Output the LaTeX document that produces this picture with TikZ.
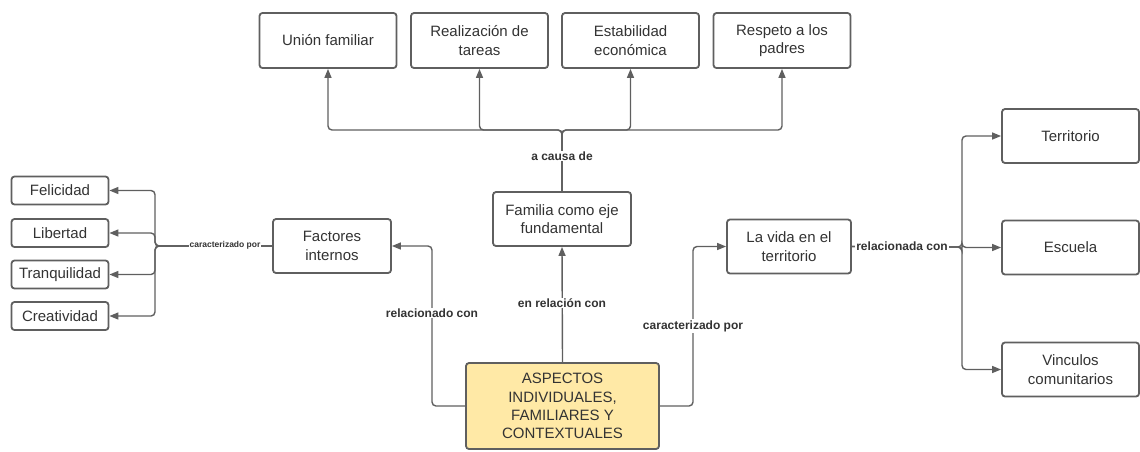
\documentclass[tikz,border=0pt]{standalone}
\usepackage{fontspec}
\setmainfont{Liberation Sans}
\usetikzlibrary{arrows.meta}
\definecolor{ln}{HTML}{5F5F5F}
\definecolor{tx}{HTML}{333333}
\definecolor{yel}{HTML}{FFE9A6}
\tikzset{
  box/.style={draw=ln, line width=1.8pt, rounded corners=3pt, fill=white, text=tx,
    align=center, inner sep=0pt, font=\fontsize{15}{18.5}\selectfont},
  topbox/.style={box, minimum width=137pt, minimum height=55pt},
  smallbox/.style={box, minimum width=97pt, minimum height=28pt},
  rbox/.style={box, minimum width=137pt, minimum height=54pt},
  conn/.style={draw=ln, line width=1.4pt, rounded corners=4pt},
  arr/.style={conn, -{Triangle[length=9pt,width=7pt]}},
  lbl/.style={fill=white, text=tx, inner sep=1pt, font=\bfseries\fontsize{12}{14}\selectfont},
  slbl/.style={fill=white, text=tx, inner sep=0.5pt, font=\bfseries\fontsize{8.5}{10}\selectfont},
}
\begin{document}
\begin{tikzpicture}[x=1pt,y=-1pt]
\useasboundingbox (0,0) rectangle (1140,451);
% top boxes
\node[topbox] (uni) at (328,40.5) {Unión familiar};
\node[topbox] (rea) at (479.5,40.5) {Realización de\\tareas};
\node[topbox] (est) at (630.5,40.5) {Estabilidad\\económica};
\node[topbox] (res) at (782,40.5) {Respeto a los\\padres};
% middle
\node[box, minimum width=138pt, minimum height=54pt] (fam) at (562,219) {Familia como eje\\fundamental};
\node[box, minimum width=118pt, minimum height=54pt] (fi) at (332,246) {Factores\\internos};
\node[box, minimum width=124pt, minimum height=54pt] (vida) at (789,246.5) {La vida en el\\territorio};
\node[box, fill=yel, minimum width=193pt, minimum height=86pt, font=\fontsize{15}{18.3}\selectfont] (asp) at (562.5,406) {ASPECTOS\\INDIVIDUALES,\\FAMILIARES Y\\CONTEXTUALES};
% left boxes
\node[smallbox] (fel) at (60,190.5) {Felicidad};
\node[smallbox] (lib) at (60,233) {Libertad};
\node[smallbox] (tra) at (60,274.5) {Tranquilidad};
\node[smallbox] (cre) at (60,316) {Creatividad};
% right boxes
\node[rbox] (ter) at (1070.5,136) {Territorio};
\node[rbox] (esc) at (1070.5,247.5) {Escuela};
\node[rbox] (vin) at (1070.5,369.5) {Vinculos\\comunitarios};
% top tree
\coordinate (tj) at (562,130);
\draw[arr] (fam.north) -- (tj) -| (uni.south);
\draw[arr] (fam.north) -- (tj) -| (rea.south);
\draw[arr] (fam.north) -- (tj) -| (est.south);
\draw[arr] (fam.north) -- (tj) -| (res.south);
\node[lbl] (l1) at (562,156) {a causa de};
% center
\draw[arr] (asp.north) -- (fam.south);
\node[lbl] (l2) at (562,303) {en relación con};
% left link
\coordinate (lj) at (432,406);
\draw[arr] (asp.west) -- (lj) |- (fi.east);
\node[lbl] (l3) at (432,313) {relacionado con};
% right link
\coordinate (rj) at (693,406);
\draw[arr] (asp.east) -- (rj) |- (vida.west);
\node[lbl] (l4) at (693,326) {caracterizado por};
% left bracket
\coordinate (bj) at (155,246);
\draw[arr] (fi.west) -- (bj) |- (fel.east);
\draw[arr] (fi.west) -- (bj) |- (lib.east);
\draw[arr] (fi.west) -- (bj) |- (tra.east);
\draw[arr] (fi.west) -- (bj) |- (cre.east);
\node[slbl] (l5) at (225,245) {caracterizado por};
% right bracket
\coordinate (cj) at (962,247);
\draw[arr] (vida.east) -- (cj) |- (ter.west);
\draw[arr] (vida.east) -- (cj) |- (esc.west);
\draw[arr] (vida.east) -- (cj) |- (vin.west);
\node[lbl] (l6) at (902,246) {relacionada con};
\end{tikzpicture}
\end{document}
